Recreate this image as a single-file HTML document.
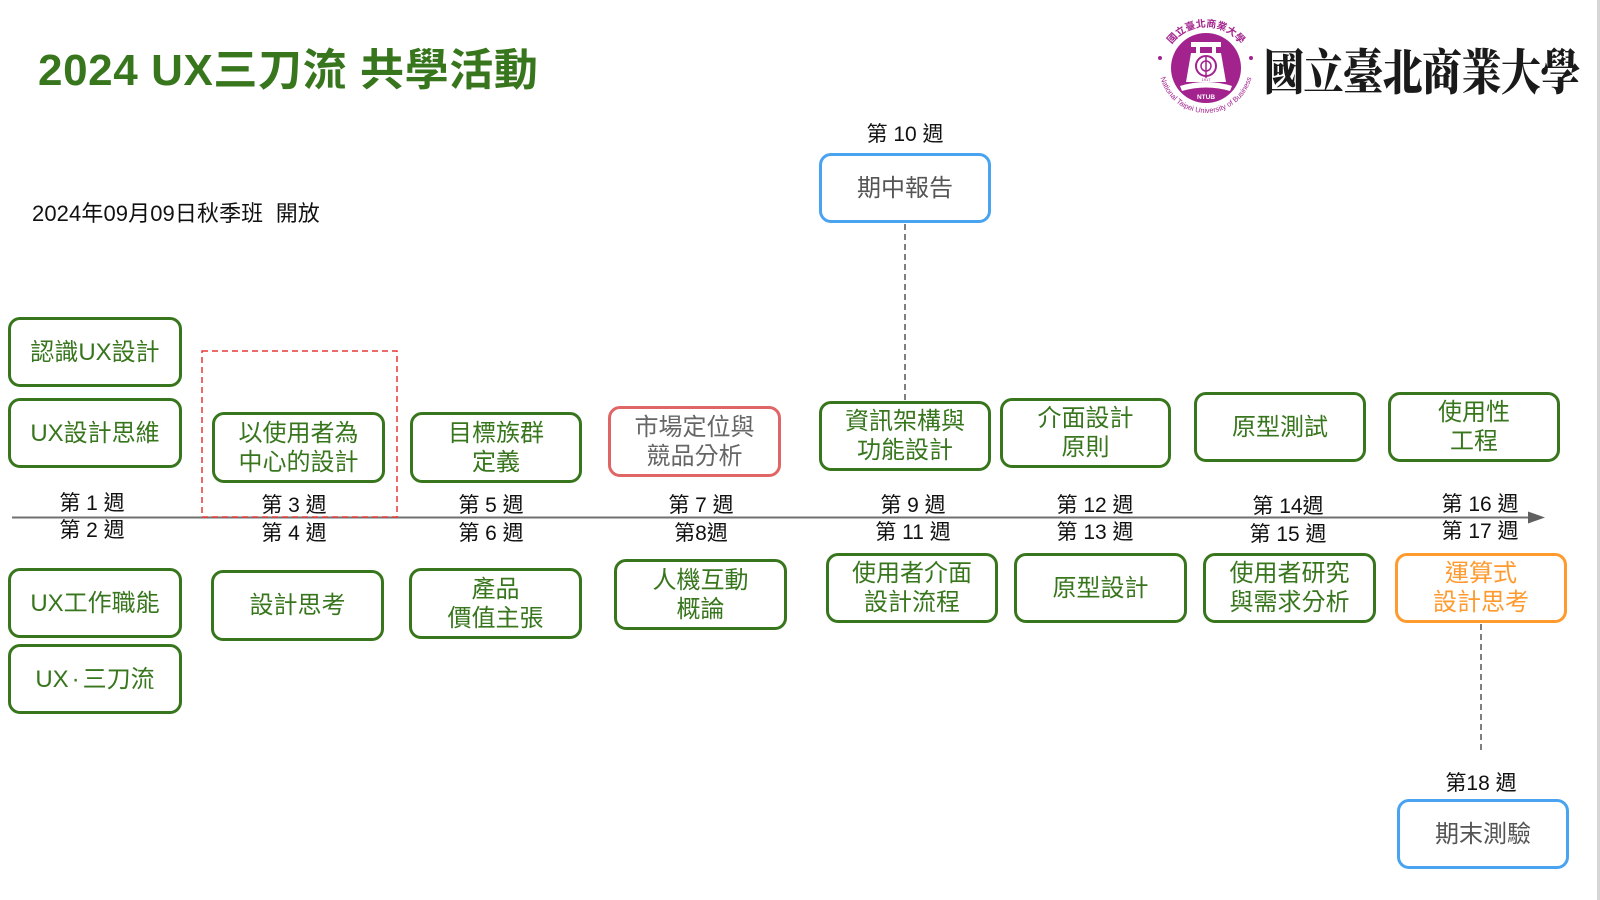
<!DOCTYPE html>
<html>
<head>
<meta charset="utf-8">
<style>
  html,body{margin:0;padding:0;background:#fff;}
  body{width:1600px;height:900px;position:relative;overflow:hidden;
       font-family:"Liberation Sans","Noto Sans CJK TC",sans-serif;}
  .title{position:absolute;left:38px;top:42px;font-size:44px;font-weight:bold;color:#38761d;
         white-space:nowrap;line-height:58px;letter-spacing:0.6px;}
  .date{position:absolute;left:32px;top:200px;font-size:22px;color:#111;white-space:nowrap;line-height:28px;letter-spacing:0.1px;}
  .box{position:absolute;box-sizing:border-box;border:3px solid #38761d;border-radius:12px;
       display:flex;align-items:center;justify-content:center;text-align:center;
       font-size:24px;line-height:29px;color:#38761d;background:#fff;}
  .red{border-color:#e06666;color:#666;}
  .blue{border-color:#4aa3f0;color:#555;}
  .orange{border-color:#ff9a2e;color:#ff9a2e;}
  .wk{position:absolute;width:140px;text-align:center;font-size:21px;line-height:26px;color:#111;white-space:nowrap;}
  .cal{position:absolute;left:1264px;top:40px;font-family:"Noto Serif CJK SC","Noto Serif CJK TC",serif;
       font-weight:900;font-size:40px;line-height:60px;color:#1a1a1a;white-space:nowrap;letter-spacing:-0.5px;
       transform:scaleY(1.22);transform-origin:left center;}
  .edge{position:absolute;left:1597px;top:0;width:3px;height:900px;background:#d6d6d6;}
  .dot{font-family:"Liberation Sans",sans-serif;margin:0 3px;}
</style>
</head>
<body>

<div class="title">2024 UX三刀流 共學活動</div>
<div class="date">2024年09月09日秋季班&nbsp;&nbsp;開放</div>

<!-- logo -->
<svg style="position:absolute;left:1148px;top:12px;" width="120" height="114" viewBox="1148 12 120 114">
  <defs>
    <path id="arcTop" d="M1163,70 A43,43 0 0 1 1249,70"/>
    <path id="arcBot" d="M1159,66 A47,47 0 0 0 1253,66"/>
  </defs>
  <circle cx="1206" cy="68" r="35" fill="#a3238e"/>
  <!-- building -->
  <rect x="1191" y="42" width="30" height="5" fill="#fff"/>
  <rect x="1196" y="47" width="4" height="6" fill="#fff"/>
  <rect x="1212" y="47" width="4" height="6" fill="#fff"/>
  <polygon points="1191,53 1221,53 1226,82 1186,82" fill="#fff"/>
  <circle cx="1206" cy="66" r="10" fill="none" stroke="#a3238e" stroke-width="2"/>
  <circle cx="1206" cy="66" r="5" fill="none" stroke="#a3238e" stroke-width="1.5"/>
  <line x1="1206" y1="56" x2="1206" y2="78" stroke="#a3238e" stroke-width="1.5"/>
  <text x="1206" y="81" font-size="4" fill="#a3238e" text-anchor="middle" font-family="Liberation Sans">1917</text>
  <path d="M1180,86 Q1206,78 1232,86 L1230,91 Q1206,84 1182,91 Z" fill="#fff"/>
  <text x="1206" y="99" font-size="6.5" font-weight="bold" fill="#fff" text-anchor="middle" font-family="Liberation Sans">NTUB</text>
  <text font-size="10" fill="#a3238e" font-weight="bold" font-family="Noto Sans CJK TC,sans-serif"><textPath href="#arcTop" startOffset="50%" text-anchor="middle">國立臺北商業大學</textPath></text>
  <text font-size="7.4" fill="#a3238e" font-family="Liberation Sans,sans-serif"><textPath href="#arcBot" startOffset="50%" text-anchor="middle">National Taipei University of Business</textPath></text>
  <circle cx="1160" cy="58" r="2" fill="#a3238e"/>
  <circle cx="1251" cy="58" r="2" fill="#a3238e"/>
</svg>
<div class="cal">國立臺北商業大學</div>

<div class="edge"></div>

<!-- lines -->
<svg style="position:absolute;left:0;top:0;" width="1600" height="900">
  <line x1="12" y1="517.5" x2="1530" y2="517.5" stroke="#707070" stroke-width="2"/>
  <polygon points="1528,511.5 1545,517.5 1528,523.5" fill="#606060"/>
  <line x1="905" y1="224" x2="905" y2="401" stroke="#555" stroke-width="1.5" stroke-dasharray="6,4"/>
  <line x1="1481" y1="624" x2="1481" y2="754" stroke="#555" stroke-width="1.5" stroke-dasharray="6,4"/>
  <rect x="202" y="351" width="195" height="166" fill="none" stroke="#e53935" stroke-width="1.5" stroke-dasharray="6,4"/>
</svg>

<!-- upper boxes -->
<div class="box" style="left:8px;top:317px;width:174px;height:70px;">認識UX設計</div>
<div class="box" style="left:8px;top:398px;width:174px;height:70px;">UX設計思維</div>
<div class="box" style="left:212px;top:412px;width:173px;height:71px;">以使用者為<br>中心的設計</div>
<div class="box" style="left:410px;top:412px;width:172px;height:71px;">目標族群<br>定義</div>
<div class="box red" style="left:608px;top:406px;width:173px;height:71px;">市場定位與<br>競品分析</div>
<div class="box" style="left:819px;top:401px;width:172px;height:70px;">資訊架構與<br>功能設計</div>
<div class="box" style="left:1000px;top:398px;width:171px;height:70px;">介面設計<br>原則</div>
<div class="box" style="left:1194px;top:392px;width:172px;height:70px;">原型測試</div>
<div class="box" style="left:1388px;top:392px;width:172px;height:70px;">使用性<br>工程</div>
<div class="box blue" style="left:819px;top:153px;width:172px;height:70px;">期中報告</div>

<!-- lower boxes -->
<div class="box" style="left:8px;top:568px;width:174px;height:70px;">UX工作職能</div>
<div class="box" style="left:8px;top:644px;width:174px;height:70px;">UX<span class="dot">·</span>三刀流</div>
<div class="box" style="left:211px;top:570px;width:173px;height:71px;">設計思考</div>
<div class="box" style="left:409px;top:568px;width:173px;height:71px;">產品<br>價值主張</div>
<div class="box" style="left:614px;top:559px;width:173px;height:71px;">人機互動<br>概論</div>
<div class="box" style="left:826px;top:553px;width:172px;height:70px;">使用者介面<br>設計流程</div>
<div class="box" style="left:1014px;top:553px;width:173px;height:70px;">原型設計</div>
<div class="box" style="left:1203px;top:553px;width:173px;height:70px;">使用者研究<br>與需求分析</div>
<div class="box orange" style="left:1395px;top:553px;width:172px;height:70px;">運算式<br>設計思考</div>
<div class="box blue" style="left:1397px;top:799px;width:172px;height:70px;">期末測驗</div>

<!-- week labels -->
<div class="wk" style="left:835px;top:122px;">第 10 週</div>

<div class="wk" style="left:22px;top:491px;">第 1 週</div>
<div class="wk" style="left:224px;top:493px;">第 3 週</div>
<div class="wk" style="left:421px;top:493px;">第 5 週</div>
<div class="wk" style="left:631px;top:493px;">第 7 週</div>
<div class="wk" style="left:843px;top:493px;">第 9 週</div>
<div class="wk" style="left:1025px;top:493px;">第 12 週</div>
<div class="wk" style="left:1218px;top:494px;">第 14週</div>
<div class="wk" style="left:1410px;top:492px;">第 16 週</div>

<div class="wk" style="left:22px;top:518px;">第 2 週</div>
<div class="wk" style="left:224px;top:521px;">第 4 週</div>
<div class="wk" style="left:421px;top:521px;">第 6 週</div>
<div class="wk" style="left:631px;top:521px;">第8週</div>
<div class="wk" style="left:843px;top:520px;">第 11 週</div>
<div class="wk" style="left:1025px;top:520px;">第 13 週</div>
<div class="wk" style="left:1218px;top:522px;">第 15 週</div>
<div class="wk" style="left:1410px;top:519px;">第 17 週</div>

<div class="wk" style="left:1411px;top:771px;">第18 週</div>

</body>
</html>
